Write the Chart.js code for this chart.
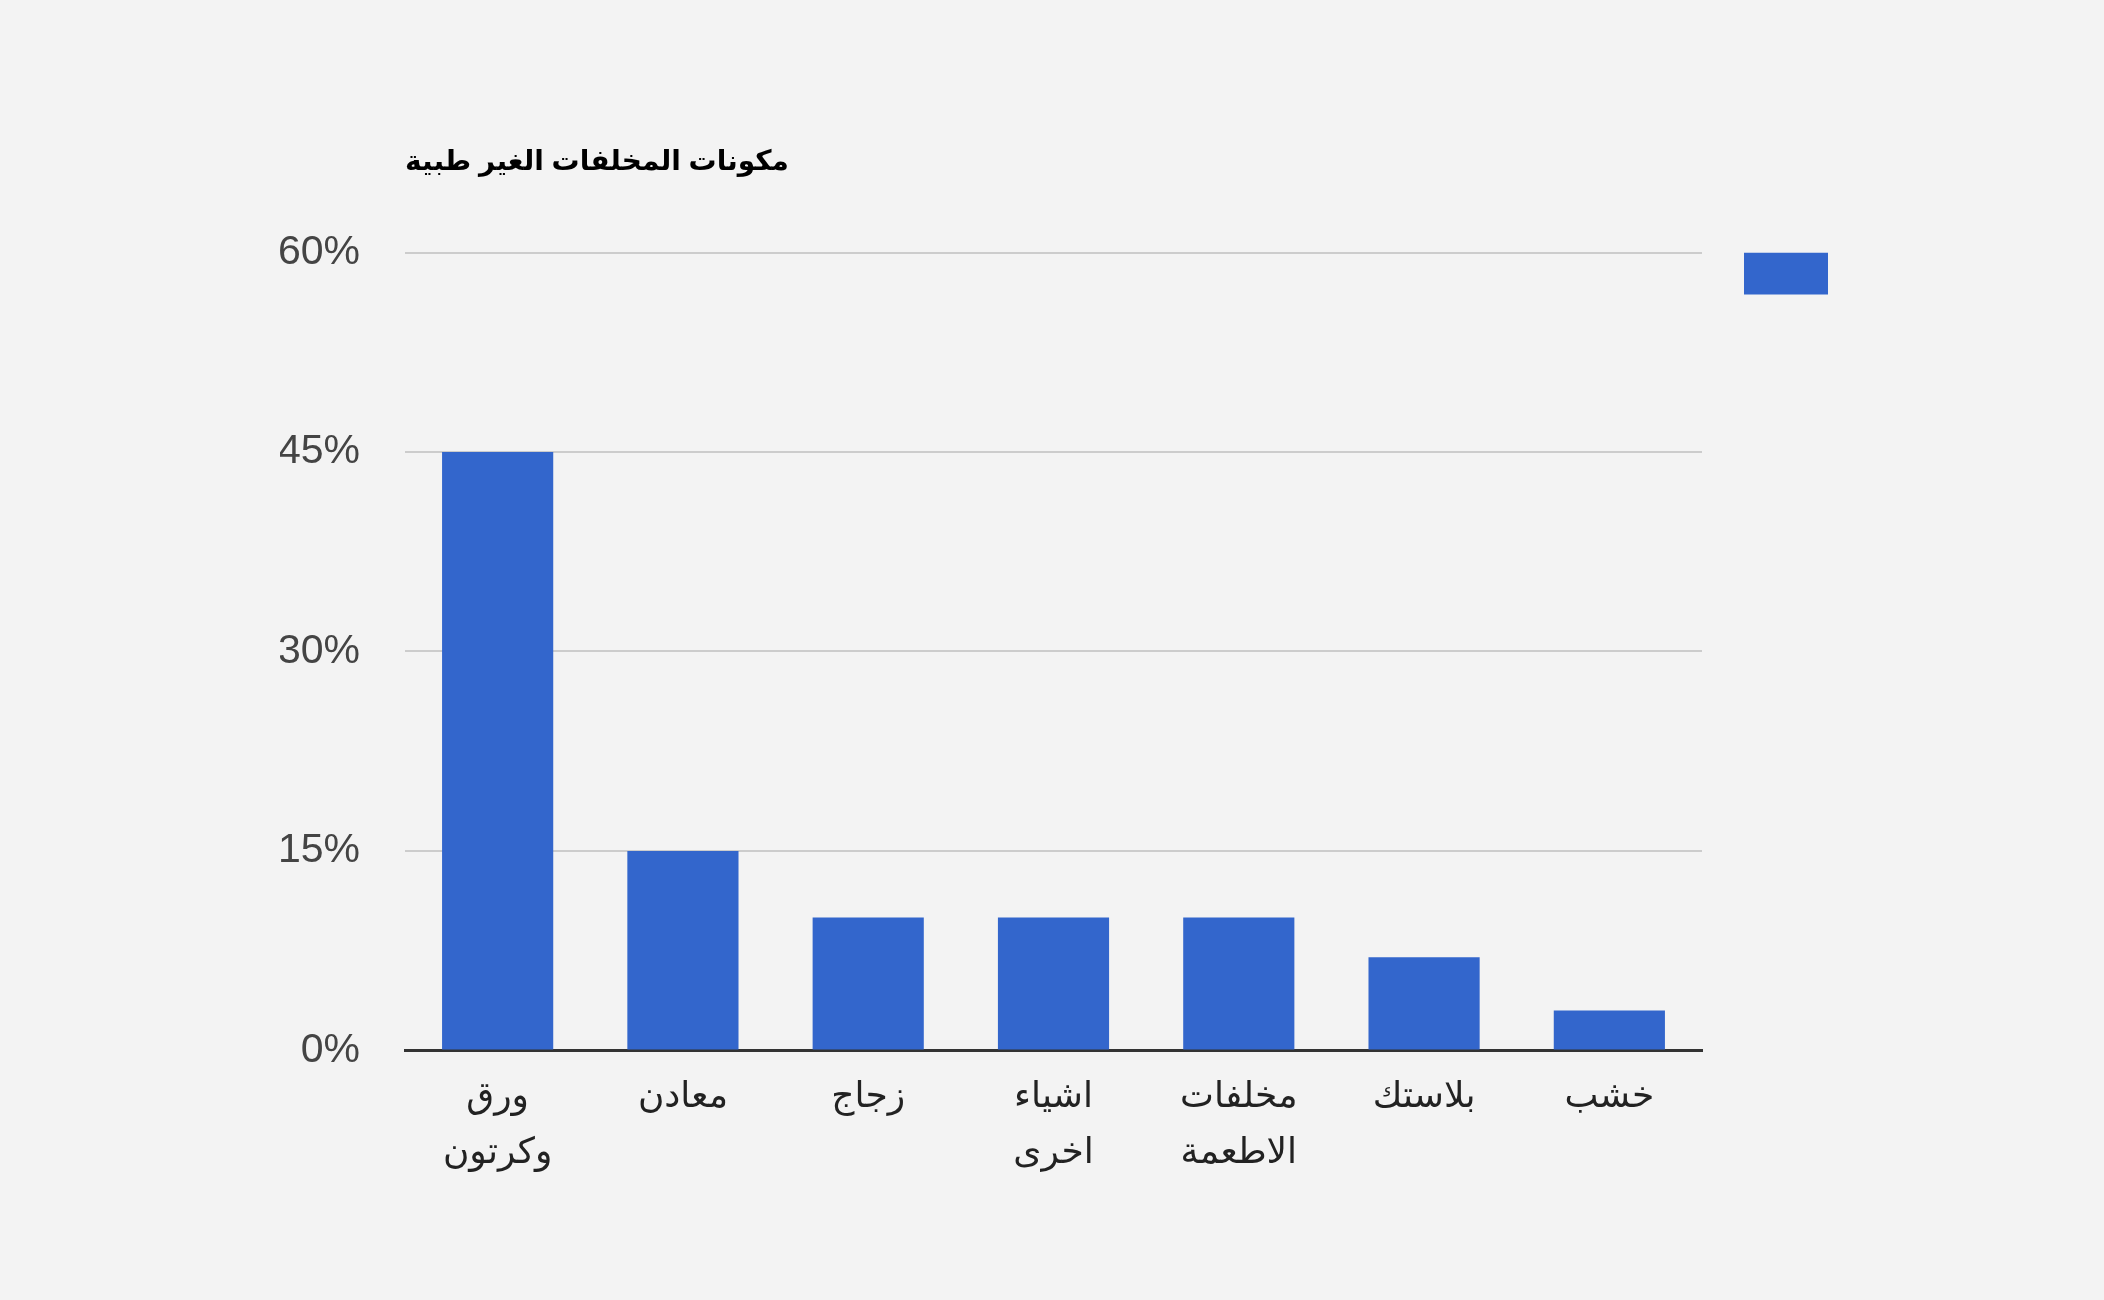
<!DOCTYPE html>
<html>
<head>
<meta charset="utf-8">
<script src="https://cdn.jsdelivr.net/npm/chart.js@4.4.1/dist/chart.umd.min.js"></script>
<style>
  html, body { margin: 0; padding: 0; background: #f3f3f3; }
  #wrap { width: 2104px; height: 1300px; }
</style>
</head>
<body>
<div id="wrap"><canvas id="myChart" width="2104" height="1300"></canvas></div>
<script>
// بيانات المخطط
const chartTitle = 'مكونات المخلفات الغير طبية';
const categories = [
  ['ورق', 'وكرتون'],
  'معادن',
  'زجاج',
  ['اشياء', 'اخرى'],
  ['مخلفات', 'الاطعمة'],
  'بلاستك',
  'خشب'
];
const percentValues = [45, 15, 10, 10, 10, 7, 3];
const yTicks = [0, 15, 30, 45, 60];

const FONT = '"Liberation Sans", Arial, "DejaVu Sans", sans-serif';

const ctx = document.getElementById('myChart').getContext('2d');
const myChart = new Chart(ctx, {
  type: 'bar',
  data: {
    labels: categories,
    datasets: [
      {
        label: '',
        data: percentValues,
        backgroundColor: '#3366cc',
        borderColor: '#3366cc',
        borderWidth: 0,
        categoryPercentage: 1.0,
        barPercentage: 0.6
      }
    ]
  },
  options: {
    responsive: false,
    devicePixelRatio: 1,
    animation: false,
    layout: {
      padding: { left: 280, right: 260, top: 143, bottom: 100 }
    },
    plugins: {
      title: {
        display: true,
        text: chartTitle,
        align: 'start',
        fullSize: false,
        color: '#000',
        font: { family: FONT, size: 28, weight: 'bold', lineHeight: 1.2 },
        padding: { top: 2, bottom: 74 }
      },
      legend: {
        position: 'right',
        align: 'start',
        fullSize: false,
        labels: {
          boxWidth: 84,
          boxHeight: 42,
          padding: 0,
          font: { family: FONT, size: 12 }
        }
      },
      tooltip: { enabled: false }
    },
    scales: {
      x: {
        type: 'category',
        grid: { display: false, drawTicks: false },
        border: { display: true, color: '#333', width: 3 },
        ticks: {
          color: '#222',
          padding: 19,
          maxRotation: 0,
          autoSkip: false,
          font: { family: FONT, size: 36, lineHeight: 1.55 }
        }
      },
      y: {
        min: 0,
        max: 60,
        afterBuildTicks: function(scale) {
          scale.ticks = yTicks.map(v => ({ value: v }));
        },
        afterFit: function(scale) {
          scale.width = 125;
        },
        grid: {
          color: '#cccccc',
          lineWidth: 2,
          drawTicks: false
        },
        border: { display: false },
        ticks: {
          color: '#444',
          padding: 45,
          font: { family: FONT, size: 41 },
          callback: function(value) { return value + '%'; }
        }
      },
      gap: {
        type: 'linear',
        position: 'right',
        display: true,
        grid: { display: false },
        border: { display: false },
        ticks: { display: false },
        afterFit: function(scale) {
          scale.width = 42;
        }
      }
    }
  }
});
</script>
</body>
</html>
